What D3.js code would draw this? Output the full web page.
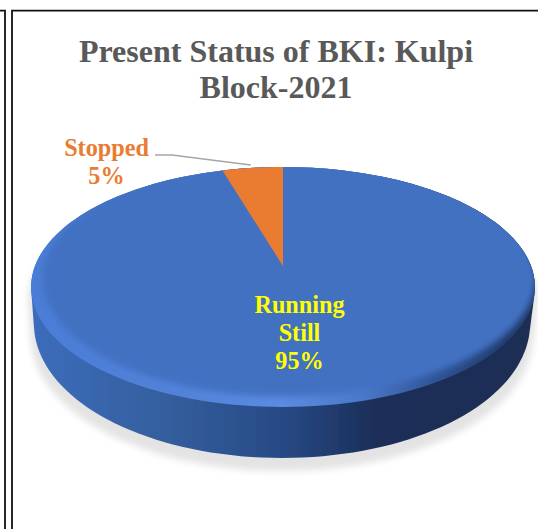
<!DOCTYPE html>
<html><head><meta charset="utf-8">
<style>html,body{margin:0;padding:0;background:#fff}svg{display:block}</style>
<script src="https://cdn.jsdelivr.net/npm/d3@7"></script>
</head><body><svg id="c" width="538" height="529"></svg>
<script>
const categories = ["Running Still", "Stopped"];
const values = [95.4, 4.6];
const colors = ["#4271c2", "#e97c30"];
const titleLines = ["Present Status of BKI: Kulpi", "Block-2021"];

const svg = d3.select("#c");
const defs = svg.append("defs");
const serif = "'Liberation Serif','Times New Roman',serif";

// frame
const frame = svg.append("g").attr("stroke", "#111").attr("stroke-width", 1.8).attr("fill", "none");
frame.append("path").attr("d", "M0,10.7H5V529");
frame.append("path").attr("d", "M12,529V10.7H538");

// perspective projection of the unit disc
const cx = 283, cy = 266, A = 248, B = 116.3, k = 0.175;
const proj = (a, r = 1) => {
  const u = Math.sin(a) * r, v = Math.cos(a) * r, d = 1 + k * v;
  return [cx + A * u / d, cy - B * v / d];
};
const pie = d3.pie().sort(null).startAngle(0).endAngle(2 * Math.PI);
const arcs = pie(values);
const angles = d3.range(0, 360, 2).map(d => d * Math.PI / 180);
const rim = angles.map(a => proj(a));
const line = d3.line().curve(d3.curveLinearClosed);

// extruded edge
const bottom = angles.map(a => {
  const [x, y] = proj(a);
  return [cx + (x - cx) * 0.985 - 1, y + 33 - 18 * Math.cos(a)];
});
const sideOutline = d3.polygonHull(rim.concat(bottom));

// gradients
const grad = (id, stops) => {
  const g = defs.append("linearGradient").attr("id", id);
  stops.forEach(([o, c]) => g.append("stop").attr("offset", o).attr("stop-color", c));
};
grad("side", [[0, "#3c6cbc"], [0.25, "#35609f"], [0.5, "#274a85"], [0.68, "#1b2f59"], [1, "#1a2d52"]]);
grad("bevel", [[0, "#4a7dd6"], [0.3, "#5283d8"], [0.5, "#5a8ce2"], [0.66, "#4a78c8"], [0.8, "#2f5596"], [0.95, "#203a6b"], [1, "#203a6b"]]);
const blur = (id, s) => defs.append("filter").attr("id", id)
  .attr("x", "-10%").attr("y", "-10%").attr("width", "120%").attr("height", "120%")
  .append("feGaussianBlur").attr("stdDeviation", s);
blur("soft", 3.2); blur("shadow", 3.5); blur("edge", 0.7);
defs.append("clipPath").attr("id", "faceClip").append("path").attr("d", line(rim));

// shadow
svg.append("path").attr("d", line(sideOutline))
  .attr("transform", `translate(${cx},13) scale(1.012,1) translate(${-cx},0)`)
  .attr("fill", "#e3e3e3").attr("filter", "url(#shadow)");

// side + face
svg.append("path").attr("d", line(sideOutline)).attr("fill", "url(#side)").attr("filter", "url(#edge)");
svg.append("path").attr("d", line(rim)).attr("fill", "url(#bevel)").attr("filter", "url(#edge)");

const inner = angles.map(a => {
  const [x, y] = proj(a);
  return [cx + (x - cx) * (x < cx ? 0.955 : 1.002), 160 + (y - 167) * 0.985];
});
svg.append("g").attr("clip-path", "url(#faceClip)")
  .append("path").attr("d", line(inner)).attr("fill", colors[0]).attr("filter", "url(#soft)");

// stopped wedge
const wedge = arcs[1];
const wedgePts = [[cx, cy]].concat(
  d3.range(0, 21).map(i => proj(wedge.startAngle + (wedge.endAngle - wedge.startAngle) * i / 20)));
svg.append("path").attr("d", line(wedgePts)).attr("fill", colors[1]);

// title
svg.append("g").attr("font-family", serif).attr("font-weight", "bold")
  .attr("font-size", 32).attr("fill", "#595959").attr("text-anchor", "middle")
  .selectAll("text").data(titleLines).join("text")
  .attr("x", 276).attr("y", (d, i) => 62 + i * 36).text(d => d);

// labels
const pct = d => Math.round(d) + "%";
const label = (lines, x, y, fill) => svg.append("g").attr("font-family", serif)
  .attr("font-weight", "bold").attr("font-size", 24.2).attr("fill", fill).attr("text-anchor", "middle")
  .selectAll("text").data(lines).join("text")
  .attr("x", x).attr("y", (d, i) => y + i * 28).text(d => d);
label(["Stopped", pct(values[1])], 106.5, 156, colors[1]);
label(["Running", "Still", pct(values[0])], 299.5, 313, "#ffff00");

// leader line
const tip = proj(wedge.startAngle + (wedge.endAngle - wedge.startAngle) * 0.47);
svg.append("path").attr("fill", "none").attr("stroke", "#a6a6a6").attr("stroke-width", 1.4)
  .attr("d", d3.line()([[155, 155], [172, 155], [tip[0], tip[1] - 3]]));
</script></body></html>
